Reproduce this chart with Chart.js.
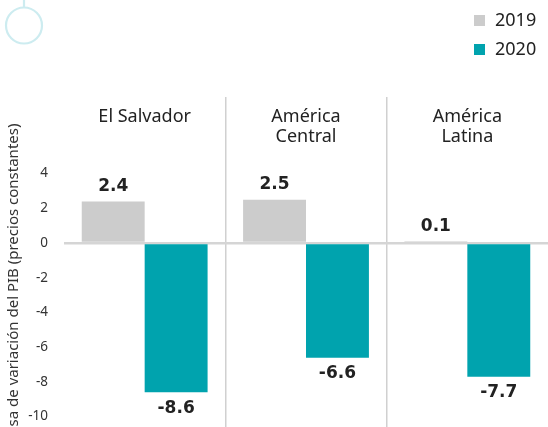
<!DOCTYPE html>
<html>
<head>
<meta charset="utf-8">
<script src="https://cdn.jsdelivr.net/npm/chart.js@4"></script>
<style>
    html, body { margin: 0; padding: 0; overflow: hidden; background: #fff; }
    #wrap { position: relative; width: 548px; height: 445px; }
</style>
</head>
<body>
<div id="wrap"><canvas id="gdpChart"></canvas></div>
<script>
    // data
    const categories = [['El Salvador'], ['América', 'Central'], ['América', 'Latina']];
    const seriesNames = ['2019', '2020'];
    const values2019 = [2.4, 2.5, 0.1];
    const values2020 = [-8.6, -6.6, -7.7];
    const yTicks = [4, 2, 0, -2, -4, -6, -8, -10];
    const seriesColors = ['#cccccc', '#00a3ae'];

    const textFont = '"Noto Sans", sans-serif';

    // bold value above / below each bar
    const valueLabels = {
        id: 'valueLabels',
        afterDatasetsDraw(chart) {
            const ctx = chart.ctx;
            ctx.save();
            ctx.font = 'bold 17px "DejaVu Sans", sans-serif';
            ctx.fillStyle = '#222222';
            ctx.textAlign = 'center';
            ctx.textBaseline = 'middle';
            chart.data.datasets.forEach((ds, i) => {
                chart.getDatasetMeta(i).data.forEach((bar, j) => {
                    let v = ds.data[j];
                    let y = v >= 0 ? bar.y - 15 : bar.y + 16;
                    ctx.fillText(v.toFixed(1), bar.x, y);
                });
            });
            ctx.restore();
        }
    };

    // stacked legend top right + the little ring in the corner
    const sideLegend = {
        id: 'sideLegend',
        afterDraw(chart) {
            const ctx = chart.ctx;
            ctx.save();
            ctx.strokeStyle = '#cdecf0';
            ctx.lineWidth = 2.2;
            ctx.beginPath();
            ctx.arc(24, 25.5, 18, 0, Math.PI * 2);
            ctx.stroke();
            ctx.beginPath();
            ctx.moveTo(24, 0);
            ctx.lineTo(24, 7.5);
            ctx.stroke();

            ctx.font = '18px ' + textFont;
            ctx.textBaseline = 'middle';
            ctx.textAlign = 'left';
            chart.data.datasets.forEach((ds, i) => {
                let y = 20.5 + i * 29;
                ctx.fillStyle = ds.backgroundColor;
                ctx.fillRect(474, y - 5.5, 11, 11);
                ctx.fillStyle = '#222222';
                ctx.fillText(ds.label, 495, y);
            });
            ctx.restore();
        }
    };

    new Chart(document.getElementById('gdpChart'), {
        type: 'bar',
        data: {
            labels: categories,
            datasets: [
                {
                    label: seriesNames[0],
                    data: values2019,
                    backgroundColor: seriesColors[0],
                    categoryPercentage: 0.78,
                    barPercentage: 1
                },
                {
                    label: seriesNames[1],
                    data: values2020,
                    backgroundColor: seriesColors[1],
                    categoryPercentage: 0.78,
                    barPercentage: 1
                }
            ]
        },
        options: {
            responsive: true,
            maintainAspectRatio: false,
            animation: false,
            layout: { padding: { top: 0, right: 0, bottom: 3, left: 0 } },
            plugins: {
                legend: { display: false },
                tooltip: { enabled: false }
            },
            scales: {
                x: {
                    position: 'top',
                    border: { display: false },
                    grid: {
                        offset: true,
                        color: c => (c.index === 1 || c.index === 2) ? '#d0d0d0' : 'transparent',
                        lineWidth: 1.5,
                        tickLength: 53
                    },
                    ticks: {
                        padding: -50,
                        crossAlign: 'far',
                        color: '#222222',
                        font: { family: textFont, size: 18, lineHeight: 1.12 }
                    },
                    afterFit: s => { s.height = 150; }
                },
                y: {
                    min: -11.46,
                    max: 5.36,
                    border: { display: false },
                    afterBuildTicks: s => { s.ticks = yTicks.map(v => ({ value: v })); },
                    afterFit: s => {
                        s.width = 64;
                        s.paddingTop = 0;
                        s.paddingBottom = 0;
                    },
                    grid: {
                        drawTicks: false,
                        color: c => (c.tick && c.tick.value === 0) ? '#d5d5d5' : 'transparent',
                        lineWidth: 2.5
                    },
                    ticks: {
                        padding: 16,
                        color: '#333333',
                        font: { family: textFont, size: 13.5 }
                    },
                    title: {
                        display: true,
                        text: 'Tasa de variación del PIB (precios constantes)',
                        align: 'start',
                        color: '#333333',
                        font: { family: textFont, size: 15 },
                        padding: { top: 5, bottom: 0 }
                    }
                }
            }
        },
        plugins: [valueLabels, sideLegend]
    });
</script>
</body>
</html>
